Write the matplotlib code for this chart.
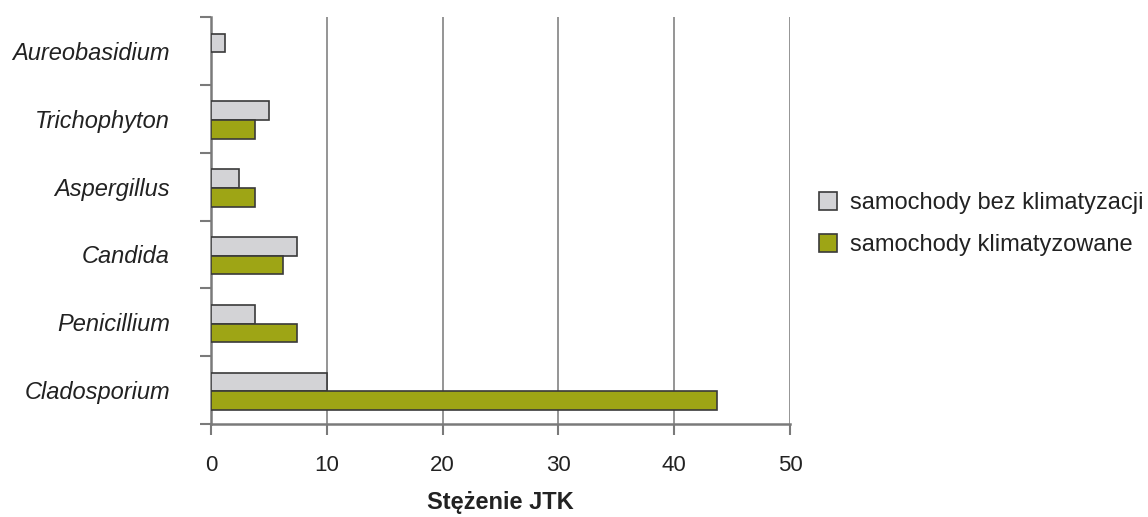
import matplotlib
matplotlib.use("Agg")
import matplotlib.pyplot as plt
import numpy as np

plt.rcParams['font.family'] = ['Liberation Sans', 'DejaVu Sans']

categories = ["Aureobasidium", "Trichophyton", "Aspergillus", "Candida", "Penicillium", "Cladosporium"]
bez_klim = [1.2, 5.0, 2.4, 7.4, 3.8, 10.0]
klim = [0.0, 3.8, 3.8, 6.2, 7.4, 43.7]
series_labels = ["samochody bez klimatyzacji", "samochody klimatyzowane"]
xticks = [0, 10, 20, 30, 40, 50]
xlabel = "Stężenie JTK"

gray = "#d3d3d6"
green = "#9ea515"
edge = "#3a3a3a"
axis_col = "#7a7a7a"

fig = plt.figure(figsize=(11.48, 5.17), dpi=100)
ax = fig.add_axes([211/1148, 1 - 424/517, (790-211)/1148, (424-17)/517])

n = len(categories)
pos = np.arange(n)[::-1]  # top first
h = 0.275
off = 0.02
b1 = ax.barh(pos + h/2 - off, bez_klim, height=h, color=gray, edgecolor=edge, linewidth=1.2,
             label=series_labels[0], zorder=3)
vals2 = [v if v > 0 else np.nan for v in klim]
b2 = ax.barh(pos - h/2 - off, vals2, height=h, color=green, edgecolor=edge, linewidth=1.2,
             label=series_labels[1], zorder=3)

ax.set_xlim(0, 50)
ax.set_ylim(-0.5, n - 0.5)
ax.set_xticks(xticks)
ax.set_xticklabels([str(t) for t in xticks], fontsize=16, color="#222222")
ax.set_yticks(np.arange(n - 1, -1, -1))
ax.set_yticklabels(categories, fontsize=17, style="italic", color="#222222")
ax.set_yticks(np.arange(-0.5, n, 1.0), minor=True)
ax.tick_params(axis="y", which="major", length=0, pad=29.5)
ax.tick_params(axis="y", which="minor", length=8, width=1.5, color=axis_col, direction="out")
ax.tick_params(axis="x", which="major", length=8, width=1.5, color=axis_col, direction="out", pad=14)

for x in xticks[1:]:
    ax.axvline(x, color="#8c8c8c", linewidth=1.3, zorder=1)

for s in ["top", "right"]:
    ax.spines[s].set_visible(False)
for s in ["left", "bottom"]:
    ax.spines[s].set_color(axis_col)
    ax.spines[s].set_linewidth(1.8)

ax.set_xlabel(xlabel, fontsize=17, fontweight="bold", color="#222222")
ax.xaxis.set_label_coords(0.5, -0.165)

leg = fig.legend(handles=[b1, b2], labels=series_labels, loc="upper left",
                 bbox_to_anchor=(798/1148, 1 - 171/517), frameon=False, fontsize=17,
                 handlelength=0.75, handleheight=0.75, handletextpad=0.55, labelspacing=0.85)
for t in leg.get_texts():
    t.set_color("#222222")

fig.savefig("out.png", dpi=100)
